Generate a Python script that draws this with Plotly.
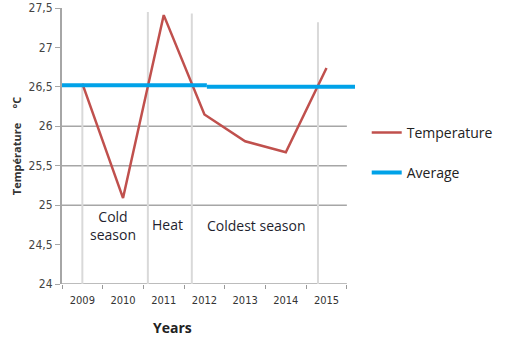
import plotly.graph_objects as go

years = ["2009", "2010", "2011", "2012", "2013", "2014", "2015"]
temperature = [26.54, 25.09, 27.41, 26.15, 25.81, 25.67, 26.74]
avg_x = [[-0.5, 3.06], [3.06, 6.7]]
avg_y = [26.52, 26.50]
y_ticks = [24, 24.5, 25, 25.5, 26, 26.5, 27, 27.5]
y_tick_text = ["24", "24,5", "25", "25,5", "26", "26,5", "27", "27,5"]
grid_levels = [24, 25, 25.5, 26]
separators = [(0.0, 26.53), (1.61, 27.45), (2.69, 27.43), (5.79, 27.32)]
seasons = [("Cold<br>season", 0.75, 24.74), ("Heat", 2.1, 24.76), ("Coldest season", 4.29, 24.74)]

xs = list(range(len(years)))
fig = go.Figure()

shapes = []
for g in grid_levels:
    shapes.append(dict(type="line", xref="x", yref="y", x0=-0.5, x1=6.5, y0=g, y1=g,
                       line=dict(color="#a6a6a6", width=1.5), layer="below"))
for sx, top in separators:
    shapes.append(dict(type="line", xref="x", yref="y", x0=sx, x1=sx, y0=24, y1=top,
                       line=dict(color="#d9d9d9", width=2), layer="below"))

fig.add_trace(go.Scatter(x=xs, y=temperature, mode="lines", name="Temperature",
                         line=dict(color="#c0504d", width=2.5), legend="legend", showlegend=True))
for i, (ax, ay) in enumerate(zip(avg_x, avg_y)):
    fig.add_trace(go.Scatter(x=ax, y=[ay, ay], mode="lines", name="Average",
                             line=dict(color="#00a2e8", width=4), legend="legend2",
                             showlegend=(i == 0)))

L, R, T, B = 62, 154, 8, 62
W, H = 509, 346
pw, ph = W - L - R, H - T - B

annotations = []
for txt, ax, ay in seasons:
    annotations.append(dict(x=ax, y=ay, xref="x", yref="y", text=txt, showarrow=False,
                            font=dict(family="Open Sans", size=14, color="#1f1f2f"),
                            align="center"))
annotations.append(dict(x=(172 - L) / pw, y=-(327 - (H - B)) / ph, xref="paper", yref="paper",
                        xanchor="center", yanchor="middle",
                        text="<b>Years</b>", showarrow=False,
                        font=dict(family="Open Sans", size=14, color="#222")))

fig.update_layout(
    width=W, height=H,
    margin=dict(l=L, r=R, t=T, b=B),
    plot_bgcolor="white", paper_bgcolor="white",
    showlegend=True,
    shapes=shapes, annotations=annotations,
    xaxis=dict(range=[-0.5, 6.7], tickvals=xs, ticktext=years, showgrid=False,
               zeroline=False, showline=False, ticks="", automargin=False,
               ticklabelstandoff=8,
               tickfont=dict(family="Liberation Sans Narrow, DejaVu Sans Condensed", size=11, color="#333"),
               minor=dict(tickvals=[-0.5, 0.5, 1.5, 2.5, 3.5, 4.5, 5.5, 6.5], ticks="outside",
                          ticklen=4, tickcolor="#999", showgrid=False)),
    yaxis=dict(range=[24, 27.5], tickvals=y_ticks, ticktext=y_tick_text, showgrid=False,
               zeroline=False, showline=True, linecolor="#a6a6a6", linewidth=2,
               ticks="outside", ticklen=5, tickcolor="#a6a6a6", automargin=False,
               tickfont=dict(family="Liberation Sans Narrow, DejaVu Sans Condensed", size=12, color="#444"),
               title=dict(text="<b>Température     °C</b>", standoff=5,
                          font=dict(family="Open Sans", size=11, color="#333"))),
    legend=dict(x=1.04, y=(H - B - 133) / ph, xanchor="left", yanchor="middle",
                font=dict(family="Open Sans", size=14, color="#222"), bgcolor="rgba(0,0,0,0)",
                itemwidth=30),
    legend2=dict(x=1.04, y=(H - B - 173) / ph, xanchor="left", yanchor="middle",
                 font=dict(family="Open Sans", size=14, color="#222"), bgcolor="rgba(0,0,0,0)",
                 itemwidth=30),
)

fig.write_html("out.html")
